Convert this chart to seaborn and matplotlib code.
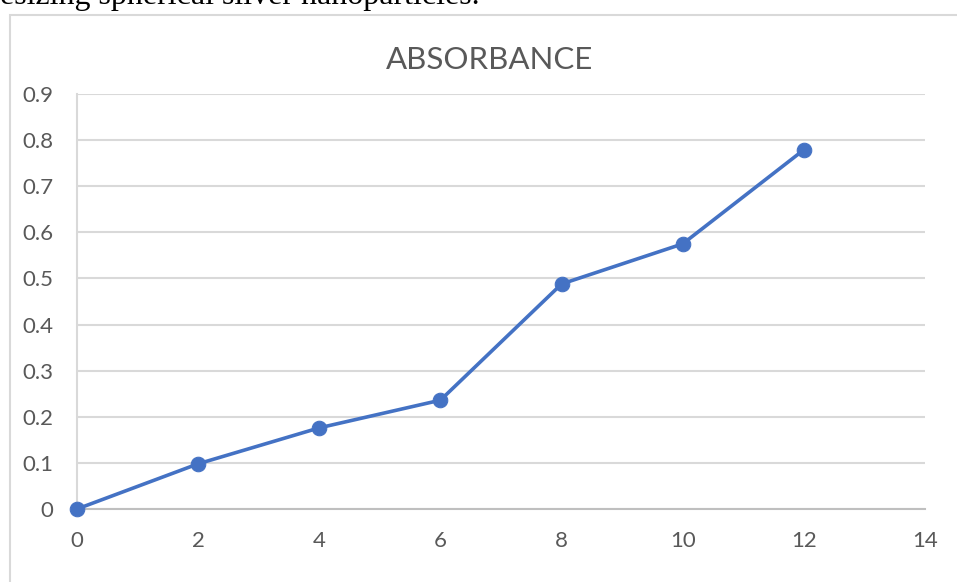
import matplotlib
matplotlib.use("Agg")
import matplotlib.pyplot as plt
from matplotlib.patches import Rectangle
import seaborn as sns
import pandas as pd

# Absorbance readings over time
time_points = [0, 2, 4, 6, 8, 10, 12]
absorbance = [0.0, 0.098, 0.176, 0.236, 0.488, 0.575, 0.779]
x_ticks = [0, 2, 4, 6, 8, 10, 12, 14]
y_ticks = [0, 0.1, 0.2, 0.3, 0.4, 0.5, 0.6, 0.7, 0.8, 0.9]
title = "ABSORBANCE"
caption = "esizing spherical silver nanoparticles."

df = pd.DataFrame({"time": time_points, "absorbance": absorbance})

sns.set_theme(style="white")
plt.rcParams["font.family"] = ["Lato", "DejaVu Sans"]

text_grey = "#595959"
grid_grey = "#d9d9d9"
line_blue = "#4472c4"

fig = plt.figure(figsize=(9.57, 5.82), dpi=100)
fig.patch.set_facecolor("white")

# caption line running along the top edge, mostly cut off
fig.text(0.0, 1 - 4 / 582, caption, family="Liberation Serif", fontsize=23,
         color="black", ha="left", va="baseline")

# chart frame
fig.patches.append(Rectangle((9.5 / 957, -0.1), 1.2, 1 - 14.5 / 582 + 0.1,
                             transform=fig.transFigure, fill=False,
                             edgecolor=grid_grey, linewidth=1.5))

ax = fig.add_axes([77 / 957, 1 - 509 / 582, (925 - 77) / 957, (509 - 94) / 582])
ax.set_facecolor("white")

sns.lineplot(data=df, x="time", y="absorbance", ax=ax, color=line_blue,
             linewidth=2.6, marker="o", markersize=10.5,
             markeredgecolor=line_blue, markerfacecolor=line_blue,
             clip_on=False, zorder=5)

ax.set_xlim(0, 14)
ax.set_ylim(0, 0.9)
ax.set_xticks(x_ticks)
ax.set_yticks(y_ticks)
ax.set_xticklabels([str(v) for v in x_ticks])
ax.set_yticklabels(["0" if v == 0 else f"{v:.1f}" for v in y_ticks])
ax.tick_params(axis="both", length=0, labelsize=16, colors=text_grey)
ax.tick_params(axis="y", pad=17)
ax.tick_params(axis="x", pad=16)

ax.grid(axis="y", color=grid_grey, linewidth=1.5)
ax.grid(axis="x", visible=False)
ax.set_axisbelow(True)

for side in ["top", "right"]:
    ax.spines[side].set_visible(False)
ax.spines["left"].set_color(grid_grey)
ax.spines["left"].set_linewidth(1.5)
ax.spines["bottom"].set_color("#bfbfbf")
ax.spines["bottom"].set_linewidth(1.5)

ax.set_xlabel("")
ax.set_ylabel("")
fig.text(490 / 957, 1 - 60 / 582, title, ha="center", va="center",
         fontsize=22.5, color=text_grey)

fig.savefig("out.png", dpi=100, facecolor="white")
